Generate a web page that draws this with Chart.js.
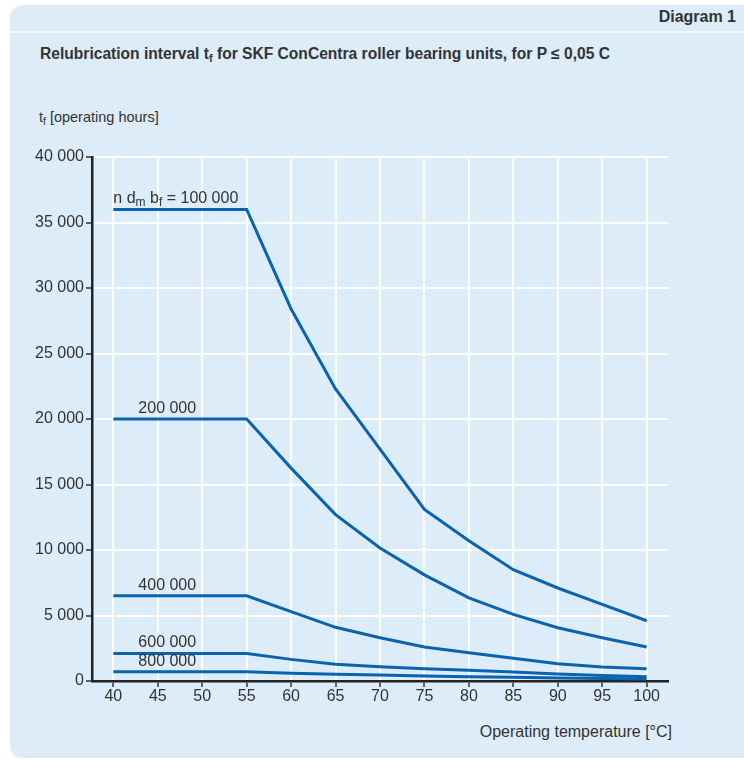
<!DOCTYPE html>
<html>
<head>
<meta charset="utf-8">
<script src="https://cdn.jsdelivr.net/npm/chart.js@4/dist/chart.umd.min.js"></script>
<style>
  html, body { margin: 0; padding: 0; background: #ffffff; }
  body { width: 744px; height: 761px; position: relative; overflow: hidden;
         font-family: "Liberation Sans", Arial, sans-serif; color: #333; }
  .panel { position: absolute; left: 10px; top: 5px; width: 750px; height: 753px;
           background: #dcecf8; border-radius: 12px; }
  .sep { position: absolute; left: 10px; top: 31px; width: 740px; height: 2px; background: #f4f9fd; }
  .txt { position: absolute; white-space: nowrap; }
  .tag { right: 8px; top: 8px; font-weight: bold; font-size: 16px; }
  .title { left: 40px; top: 45px; font-weight: bold; font-size: 15.6px; }
  .ytitle { left: 39px; top: 109px; font-size: 14.5px; }
  .xtitle { right: 72px; top: 723px; font-size: 16px; }
  sub { font-size: 0.7em; vertical-align: -0.25em; line-height: 0; }
  #chart { position: absolute; left: 0; top: 0; }
</style>
</head>
<body>
<div class="panel"></div>
<div class="sep"></div>
<div class="txt tag">Diagram 1</div>
<div class="txt title">Relubrication interval t<sub>f</sub> for SKF ConCentra roller bearing units, for P ≤ 0,05 C</div>
<div class="txt ytitle">t<sub>f</sub> [operating hours]</div>
<div class="txt xtitle">Operating temperature [°C]</div>
<canvas id="chart" width="744" height="761"></canvas>
<script>
document.addEventListener('DOMContentLoaded', () => {

    // ==========================
    // DATA
    // ==========================

    const temps   = [40, 45, 50, 55, 60, 65, 70, 75, 80, 85, 90, 95, 100];
    const xTicks  = [40, 45, 50, 55, 60, 65, 70, 75, 80, 85, 90, 95, 100];
    const yTicks  = [0, 5000, 10000, 15000, 20000, 25000, 30000, 35000, 40000];

    const speedFactors = ['100 000', '200 000', '400 000', '600 000', '800 000'];

    const hours100k = [36000, 36000, 36000, 36000, 28400, 22300, 17700, 13100, 10700, 8500, 7100, 5850, 4600];
    const hours200k = [20000, 20000, 20000, 20000, 16250, 12700, 10150, 8100, 6350, 5080, 4070, 3300, 2600];
    const hours400k = [6500, 6500, 6500, 6500, 5300, 4100, 3300, 2600, 2150, 1730, 1320, 1070, 940];
    const hours600k = [2100, 2100, 2100, 2100, 1650, 1280, 1080, 940, 820, 680, 540, 420, 320];
    const hours800k = [700, 700, 700, 700, 600, 520, 450, 390, 330, 280, 230, 190, 150];

    const series = [hours100k, hours200k, hours400k, hours600k, hours800k];

    // ==========================
    // HELPERS
    // ==========================

    const LINE_BLUE = '#0a63ad';
    const TEXT = '#333333';
    const FONT = '"Liberation Sans", Arial, sans-serif';

    function spaced(v) {
        return String(v).replace(/\B(?=(\d{3})+(?!\d))/g, ' ');
    }

    // curve labels, drawn from each series' first point
    const curveLabels = {
        id: 'curveLabels',
        afterDatasetsDraw(chart) {
            const ctx = chart.ctx;
            const xs = chart.scales.x;
            const ys = chart.scales.y;

            ctx.save();
            ctx.fillStyle = TEXT;
            ctx.textBaseline = 'alphabetic';
            ctx.textAlign = 'left';

            series.forEach((vals, i) => {
                const px = xs.getPixelForValue(temps[0]);
                const py = ys.getPixelForValue(vals[0]) - 6;

                if (i === 0) {
                    // n dm bf = 100 000
                    const parts = [
                        ['n d', false], ['m', true], [' b', false], ['f', true],
                        [' = ' + speedFactors[i], false]
                    ];
                    let x = px;
                    parts.forEach(([t, sub]) => {
                        ctx.font = (sub ? '12px ' : '16px ') + FONT;
                        ctx.fillText(t, x, py + (sub ? 3 : 0));
                        x += ctx.measureText(t).width;
                    });
                } else {
                    ctx.font = '16px ' + FONT;
                    ctx.fillText(speedFactors[i], px + 25, py);
                }
            });

            ctx.restore();
        }
    };

    // ==========================
    // CHART
    // ==========================

    const gridStyle = {
        color: 'rgba(255,255,255,0.95)',
        lineWidth: 2,
        tickLength: 6,
        tickColor: '#333333',
        tickWidth: 1.5
    };

    new Chart(document.getElementById('chart'), {
        type: 'line',
        data: {
            datasets: series.map((vals, i) => ({
                label: speedFactors[i],
                data: vals.map((v, j) => ({ x: temps[j], y: v })),
                borderColor: LINE_BLUE,
                borderWidth: 3,
                pointRadius: 0,
                tension: 0,
                fill: false
            }))
        },
        options: {
            responsive: false,
            animation: false,
            layout: {
                padding: { top: 157, right: 76, left: 0, bottom: 0 }
            },
            plugins: {
                legend: { display: false },
                tooltip: { enabled: false }
            },
            scales: {
                x: {
                    type: 'linear',
                    min: 37.6,
                    max: 102.4,
                    afterBuildTicks: (axis) => {
                        axis.ticks = xTicks.map(v => ({ value: v }));
                    },
                    afterFit: (scale) => { scale.height = 80; },
                    grid: gridStyle,
                    border: { display: true, color: '#222222', width: 2.5 },
                    ticks: {
                        color: TEXT,
                        font: { family: FONT, size: 16 },
                        padding: 0,
                        maxRotation: 0,
                        autoSkip: false
                    }
                },
                y: {
                    min: 0,
                    max: 40000,
                    afterBuildTicks: (axis) => {
                        axis.ticks = yTicks.map(v => ({ value: v }));
                    },
                    afterFit: (scale) => { scale.width = 92; },
                    grid: gridStyle,
                    border: { display: true, color: '#222222', width: 2.5 },
                    ticks: {
                        color: TEXT,
                        font: { family: FONT, size: 16 },
                        padding: 2,
                        callback: (v) => spaced(v)
                    }
                }
            }
        },
        plugins: [curveLabels]
    });

});
</script>
</body>
</html>
